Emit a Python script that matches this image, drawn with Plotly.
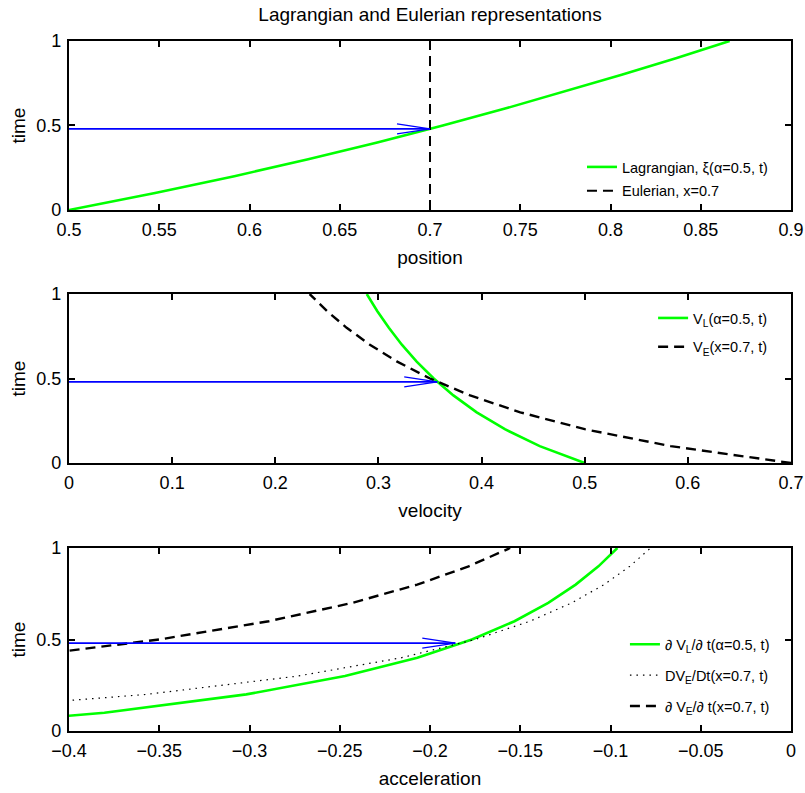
import plotly.graph_objects as go

# ---------------- data ----------------
t_vals = [0.0, 0.1, 0.2, 0.3, 0.4, 0.5, 0.6, 0.7, 0.8, 0.9, 1.0]

# Lagrangian position xi(alpha=0.5, t)
xi_L = [0.5, 0.5477, 0.5916, 0.6325, 0.6708, 0.7071, 0.7416, 0.7746, 0.8062, 0.8367, 0.8660]
# Eulerian position x = 0.7
x_E = [0.7, 0.7]
x_E_t = [0.0, 1.0]

# velocities
v_L = [0.5, 0.4564, 0.4226, 0.3953, 0.3727, 0.3536, 0.3371, 0.3227, 0.3101, 0.2988, 0.2887]
v_E = [0.7, 0.5833, 0.5, 0.4375, 0.3889, 0.35, 0.3182, 0.2917, 0.2692, 0.25, 0.2333]

# accelerations
a_L = [-0.5, -0.3804, -0.3018, -0.2471, -0.2070, -0.1768, -0.1532, -0.1345, -0.1193, -0.1067, -0.0962]
DvE_Dt = [-0.7, -0.4861, -0.3571, -0.2734, -0.2160, -0.175, -0.1446, -0.1215, -0.1036, -0.0893, -0.0778]
dvE_dt = [-1.4, -0.9722, -0.7143, -0.5469, -0.4321, -0.35, -0.2893, -0.2431, -0.2071, -0.1786, -0.1556]

# blue arrows (time level, start and tip on each panel)
arrow_t = 0.48
arrow_start = [0.5, 0.0, -0.4]
arrow_tip = [0.7, 0.357, -0.186]

# ticks
pos_ticks = [0.5, 0.55, 0.6, 0.65, 0.7, 0.75, 0.8, 0.85, 0.9]
pos_labels = ["0.5", "0.55", "0.6", "0.65", "0.7", "0.75", "0.8", "0.85", "0.9"]
vel_ticks = [0.0, 0.1, 0.2, 0.3, 0.4, 0.5, 0.6, 0.7]
vel_labels = ["0", "0.1", "0.2", "0.3", "0.4", "0.5", "0.6", "0.7"]
acc_ticks = [-0.4, -0.35, -0.3, -0.25, -0.2, -0.15, -0.1, -0.05, 0.0]
acc_labels = ["\u22120.4", "\u22120.35", "\u22120.3", "\u22120.25", "\u22120.2",
              "\u22120.15", "\u22120.1", "\u22120.05", "0"]
time_ticks = [0, 0.5, 1]
time_labels = ["0", "0.5", "1"]

# ---------------- styles ----------------
FONT = "Liberation Sans, Arial, Helvetica, sans-serif"
GREEN = "#00FF00"
BLUE = "#0000FF"
DASH = "10px,6px"
DOT = "1.5px,5px"

fig = go.Figure()

# top panel
fig.add_trace(go.Scatter(x=xi_L, y=t_vals, mode="lines", name="Lagrangian, \u03be(\u03b1=0.5, t)",
                         line=dict(color=GREEN, width=2.6), xaxis="x", yaxis="y", legend="legend",
                         legendgroup="a"))
fig.add_trace(go.Scatter(x=x_E, y=x_E_t, mode="lines", name="Eulerian, x=0.7",
                         line=dict(color="black", width=2, dash=DASH), xaxis="x", yaxis="y", legend="legend",
                         legendgroup="b"))
# middle panel
fig.add_trace(go.Scatter(x=v_L, y=t_vals, mode="lines", name="V<sub>L</sub>(\u03b1=0.5, t)",
                         line=dict(color=GREEN, width=2.6), xaxis="x2", yaxis="y2", legend="legend2",
                         legendgroup="c"))
fig.add_trace(go.Scatter(x=v_E, y=t_vals, mode="lines", name="V<sub>E</sub>(x=0.7, t)",
                         line=dict(color="black", width=2.4, dash=DASH), xaxis="x2", yaxis="y2", legend="legend2",
                         legendgroup="d"))
# bottom panel
fig.add_trace(go.Scatter(x=a_L, y=t_vals, mode="lines", name="\u2202 V<sub>L</sub>/\u2202 t(\u03b1=0.5, t)",
                         line=dict(color=GREEN, width=2.6), xaxis="x3", yaxis="y3", legend="legend3",
                         legendgroup="e"))
fig.add_trace(go.Scatter(x=DvE_Dt, y=t_vals, mode="lines", name="DV<sub>E</sub>/Dt(x=0.7, t)",
                         line=dict(color="black", width=1.2, dash=DOT), xaxis="x3", yaxis="y3", legend="legend3",
                         legendgroup="f"))
fig.add_trace(go.Scatter(x=dvE_dt, y=t_vals, mode="lines", name="\u2202 V<sub>E</sub>/\u2202 t(x=0.7, t)",
                         line=dict(color="black", width=2.4, dash=DASH), xaxis="x3", yaxis="y3", legend="legend3",
                         legendgroup="g"))

axis_common = dict(showline=True, mirror="allticks", linecolor="black", linewidth=2.2,
                   ticks="inside", ticklen=6, tickwidth=2, tickcolor="black",
                   showgrid=False, zeroline=False, automargin=False, ticklabeloverflow="allow",
                   tickfont=dict(size=18, color="black", family=FONT))

xtitle_font = dict(size=19, color="black", family=FONT)
legend_common = dict(xanchor="left", yanchor="top", bgcolor="rgba(0,0,0,0)", borderwidth=0,
                     font=dict(size=14.5, family=FONT, color="black"))

layout = dict(
    width=805, height=793,
    margin=dict(l=69, r=14, t=41, b=62, autoexpand=False),
    paper_bgcolor="white", plot_bgcolor="white",
    font=dict(family=FONT, color="black"),
    showlegend=True,
    title=dict(text="Lagrangian and Eulerian representations", x=0.5, xref="paper",
               xanchor="center", y=1 - 14.5 / 793, yref="container", yanchor="middle",
               font=dict(size=19, family=FONT, color="black")),
    xaxis=dict(axis_common, domain=[0, 1], range=[0.5, 0.9], tickvals=pos_ticks, ticktext=pos_labels,
               anchor="y", title=dict(text="position", font=xtitle_font, standoff=12), ticklabelstandoff=2),
    yaxis=dict(axis_common, domain=[0.7551, 1.0], range=[0, 1], tickvals=time_ticks, ticktext=time_labels,
               anchor="x", title=dict(text="time", font=xtitle_font, standoff=6), ticklabelstandoff=2),
    xaxis2=dict(axis_common, domain=[0, 1], range=[0, 0.7], tickvals=vel_ticks, ticktext=vel_labels,
                anchor="y2", title=dict(text="velocity", font=xtitle_font, standoff=12), ticklabelstandoff=2),
    yaxis2=dict(axis_common, domain=[0.3884, 0.6333], range=[0, 1], tickvals=time_ticks, ticktext=time_labels,
                anchor="x2", title=dict(text="time", font=xtitle_font, standoff=6), ticklabelstandoff=2),
    xaxis3=dict(axis_common, domain=[0, 1], range=[-0.4, 0], tickvals=acc_ticks, ticktext=acc_labels,
                anchor="y3", title=dict(text="acceleration", font=xtitle_font, standoff=12), ticklabelstandoff=2),
    yaxis3=dict(axis_common, domain=[0.0, 0.2652], range=[0, 1], tickvals=time_ticks, ticktext=time_labels,
                anchor="x3", title=dict(text="time", font=xtitle_font, standoff=6), ticklabelstandoff=2),
    legend=dict(legend_common, x=0.7105, y=0.8406, tracegroupgap=2),
    legend2=dict(legend_common, x=0.809, y=0.6217, tracegroupgap=7),
    legend3=dict(legend_common, x=0.770, y=0.1487, tracegroupgap=9),
)
fig.update_layout(**layout)

# arrows drawn as shapes anchored to the data
shapes = []
axes_ids = [("x", "y"), ("x2", "y2"), ("x3", "y3")]
for (xr, yr), xs, xt in zip(axes_ids, arrow_start, arrow_tip):
    shapes.append(dict(type="line", xref=xr, yref=yr, x0=xs, x1=xt, y0=arrow_t, y1=arrow_t,
                       line=dict(color=BLUE, width=1.6)))
    for dy in (-5, 5):
        shapes.append(dict(type="line", xref=xr, yref=yr,
                           xsizemode="pixel", xanchor=xt, x0=-33, x1=0,
                           ysizemode="pixel", yanchor=arrow_t, y0=dy, y1=0,
                           line=dict(color=BLUE, width=1.2)))
fig.update_layout(shapes=shapes)

# remove the browser's default 8px page margin so the figure fills the window exactly
fig.write_html("out.html", config={"displayModeBar": False},
               post_script="document.body.style.margin='0';document.body.style.overflow='hidden';")
